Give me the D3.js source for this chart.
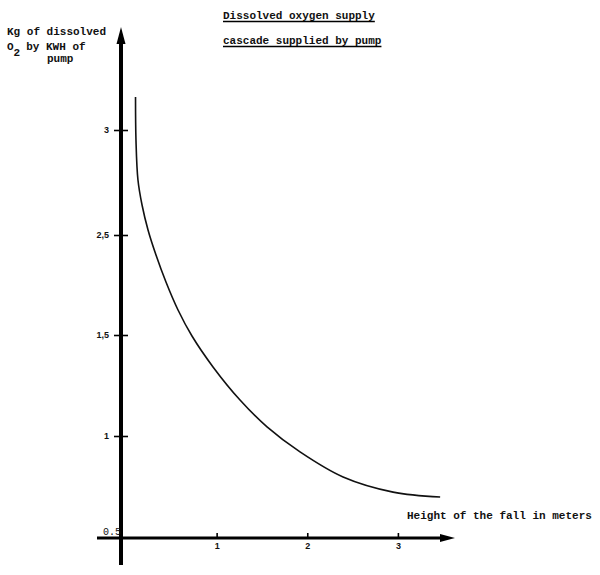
<!DOCTYPE html>
<html>
<head>
<meta charset="utf-8">
<script src="https://cdn.jsdelivr.net/npm/d3@7"></script>
<style>
  html, body { margin: 0; padding: 0; background: #fff; }
  svg { display: block; }
  .mono { font-family: "Liberation Mono", "DejaVu Sans Mono", monospace; font-size: 11px; font-weight: bold; fill: #111; }
  .tick text { font-family: "Liberation Sans", Arial, sans-serif; font-size: 9px; font-weight: bold; fill: #111; }
</style>
</head>
<body>
<svg id="chart" width="600" height="575"></svg>
<script>
// ---- Data ----
const heights = [0.105, 0.11, 0.132, 0.177, 0.243, 0.331, 0.441, 0.574, 0.728, 0.96, 1.258, 1.556, 1.92, 2.395, 2.947, 3.466];
const oxygen  = [3.157, 2.952, 2.762, 2.643, 2.524, 2.30, 2.03, 1.75, 1.495, 1.342, 1.178, 1.045, 0.922, 0.799, 0.725, 0.701];
const yTickValues = [1, 1.5, 2.5, 3];
const yTickLabels = ["1", "1,5", "2,5", "3"];
const yBaseLabel = "0.5";
const xTickValues = [1, 2, 3];
const titleLines = ["Dissolved oxygen supply", "cascade supplied by pump"];
const yTitleLines = ["Kg of dissolved", "O", "by KWH of", "pump"];
const xTitle = "Height of the fall in meters";

const svg = d3.select("#chart");

// scales (the original axis is non-uniform, so the y scale is piecewise)
const x = d3.scaleLinear().domain([-0.32, 3.63]).range([97, 455]);
const y = d3.scaleLinear().domain([0.5, 1, 1.5, 2.5, 3]).range([538, 436, 335, 235, 130]);

const axisX = 121;          // pixel x of y axis

// ---- Y axis ----
svg.append("line")
  .attr("x1", axisX).attr("x2", axisX)
  .attr("y1", 40).attr("y2", 565)
  .attr("stroke", "#000").attr("stroke-width", 4);
svg.append("path")
  .attr("d", `M${axisX},27 L${axisX - 4.5},44 L${axisX + 4.5},44 Z`)
  .attr("fill", "#000");

const gy = svg.append("g").attr("transform", `translate(${axisX},0)`)
  .call(d3.axisLeft(y).tickValues(yTickValues)
    .tickFormat((d, i) => yTickLabels[i]).tickSizeInner(7).tickPadding(5));
gy.select(".domain").remove();
gy.selectAll(".tick line").attr("x1", -7).attr("x2", 7).attr("stroke", "#000").attr("stroke-width", 1.6);
gy.selectAll(".tick text").attr("dy", "0.25em");

svg.append("text").attr("class", "mono")
  .attr("x", 103).attr("y", y(0.5) - 3)
  .style("font-size", "10px").style("font-weight", "normal")
  .text(yBaseLabel);

// ---- X axis ----
svg.append("line")
  .attr("x1", x(-0.32)).attr("x2", 442)
  .attr("y1", y(0.5)).attr("y2", y(0.5))
  .attr("stroke", "#000").attr("stroke-width", 2.8);
svg.append("path")
  .attr("d", `M455,${y(0.5)} L440,${y(0.5) - 4} L440,${y(0.5) + 4} Z`)
  .attr("fill", "#000");

const gx = svg.append("g").attr("transform", `translate(0,${y(0.5)})`)
  .call(d3.axisBottom(x).tickValues(xTickValues).tickFormat(d3.format("d")).tickSizeInner(0).tickPadding(5));
gx.select(".domain").remove();
gx.selectAll(".tick line").attr("y1", -5).attr("y2", 0).attr("stroke", "#000").attr("stroke-width", 1.6);

// ---- Curve ----
const pts = heights.map((h, i) => [h, oxygen[i]]);
const line = d3.line().x(d => x(d[0])).y(d => y(d[1])).curve(d3.curveCatmullRom.alpha(0.5));
svg.append("path").datum(pts)
  .attr("d", line)
  .attr("fill", "none").attr("stroke", "#111").attr("stroke-width", 1.6);

// ---- Title (underlined) ----
titleLines.forEach((t, i) => {
  const yy = 19 + i * 25;
  const txt = svg.append("text").attr("class", "mono").attr("x", 223).attr("y", yy).text(t);
  const w = txt.node().getComputedTextLength();
  svg.append("line").attr("x1", 223).attr("x2", 223 + w)
    .attr("y1", yy + 2.5).attr("y2", yy + 2.5)
    .attr("stroke", "#000").attr("stroke-width", 1.4);
});

// ---- Y title ----
svg.append("text").attr("class", "mono").attr("x", 7).attr("y", 35).text(yTitleLines[0]);
const l2 = svg.append("text").attr("class", "mono").attr("x", 7).attr("y", 50);
l2.append("tspan").text(yTitleLines[1]);
l2.append("tspan").attr("dy", 6).text("2");
l2.append("tspan").attr("dy", -6).attr("dx", 6).text(yTitleLines[2]);
svg.append("text").attr("class", "mono").attr("x", 47).attr("y", 62).text(yTitleLines[3]);

// ---- X title ----
svg.append("text").attr("class", "mono").attr("x", 407).attr("y", 519).text(xTitle);
</script>
</body>
</html>
